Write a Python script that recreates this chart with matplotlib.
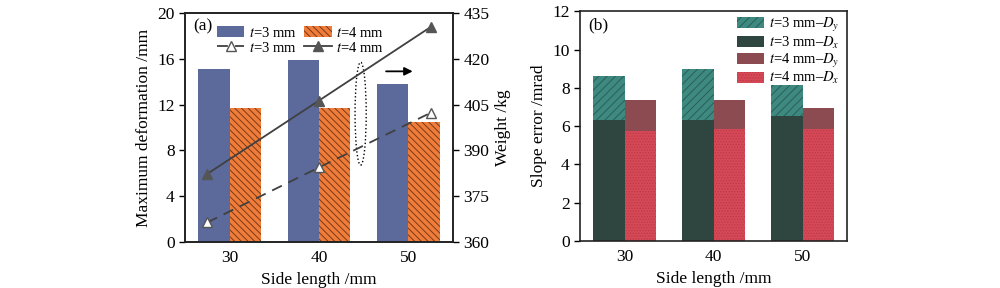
import numpy as np
import matplotlib
matplotlib.use('Agg')
import matplotlib.pyplot as plt
from matplotlib.patches import Ellipse

plt.rcParams['font.family'] = 'Liberation Serif'
plt.rcParams['mathtext.fontset'] = 'stix'
plt.rcParams['hatch.linewidth'] = 0.7

# data
side_labels = ['30', '40', '50']
deform_t3 = [15.08, 15.9, 13.82]
deform_t4 = [11.74, 11.74, 10.48]
weight_x = [27.5, 40, 52.5]  # side length positions of weight points
weight_t3 = [366.4, 384.4, 402.3]
weight_t4 = [382.3, 406.3, 430.4]

dx_t3 = [6.3, 6.3, 6.52]
dy_t3 = [8.63, 8.96, 8.17]
dx_t4 = [5.74, 5.83, 5.83]
dy_t4 = [7.34, 7.39, 6.94]

x = np.arange(len(side_labels))
w = 0.35
fs = 12.5

fig = plt.figure(figsize=(10, 2.88), dpi=100)
ax1 = fig.add_axes([0.185, 0.16, 0.268, 0.795])
ax2 = fig.add_axes([0.58, 0.163, 0.267, 0.798])

# ---- panel (a)
b1 = ax1.bar(x - w / 2, deform_t3, w, color='#5b6a9b')
b2 = ax1.bar(x + w / 2, deform_t4, w, color='#ef7d39', hatch='\\\\\\\\\\',
             edgecolor='#7a3a1a', linewidth=0)
ax1.set_xlim(-0.5, 2.5)
ax1.set_ylim(0, 20)
ax1.set_yticks(range(0, 21, 4))
ax1.set_xticks(x)
ax1.set_xticklabels(side_labels)
ax1.set_xlabel('Side length /mm', fontsize=fs)
ax1.set_ylabel('Maximum deformation /mm', fontsize=fs)

ax1r = ax1.twinx()
lx = (np.array(weight_x) - 30) / 10
l1, = ax1r.plot(lx, weight_t3, '--', color='#404040', lw=1.3, marker='^',
                ms=7, mfc='white', mec='#555555', dashes=(6, 4))
l2, = ax1r.plot(lx, weight_t4, '-', color='#404040', lw=1.3, marker='^',
                ms=7, mfc='#555555', mec='#555555')
ax1r.set_ylim(360, 435)
ax1r.set_yticks(range(360, 436, 15))
ax1r.set_ylabel('Weight /kg', fontsize=fs)

ax1.add_patch(Ellipse((1.466, 11.2), 0.125, 9.0, fill=False, ls=':',
                      lw=1.0, ec='black', zorder=5))
ax1.annotate('', xy=(2.08, 14.9), xytext=(1.72, 14.9),
             arrowprops=dict(arrowstyle='-|>', color='black', lw=1.3,
                             mutation_scale=12))
ax1.text(0.03, 0.975, '(a)', transform=ax1.transAxes, fontsize=fs,
         va='top', ha='left')
ax1r.legend([b1, l1, b2, l2], ['$t$=3 mm', '$t$=3 mm', '$t$=4 mm', '$t$=4 mm'],
            ncol=2, loc='upper left', bbox_to_anchor=(0.075, 0.995),
            frameon=False, fontsize=10.5, handlelength=1.9, handleheight=0.8,
            columnspacing=0.5, handletextpad=0.3, labelspacing=0.05,
            borderpad=0.3)

# ---- panel (b)
h1 = ax2.bar(x - w / 2, dy_t3, w, color='#3e8a80', hatch='////',
             edgecolor='#2a5e57', linewidth=0)
h2 = ax2.bar(x - w / 2, dx_t3, w, color='#2f4540')
h3 = ax2.bar(x + w / 2, dy_t4, w, color='#8c4b50')
h4 = ax2.bar(x + w / 2, dx_t4, w, color='#d64a58', hatch='......',
             edgecolor='#c03848', linewidth=0)
ax2.set_xlim(-0.5, 2.5)
ax2.set_ylim(0, 12)
ax2.set_yticks(range(0, 13, 2))
ax2.set_xticks(x)
ax2.set_xticklabels(side_labels)
ax2.set_xlabel('Side length /mm', fontsize=fs)
ax2.set_ylabel('Slope error /mrad', fontsize=fs)
ax2.text(0.03, 0.975, '(b)', transform=ax2.transAxes, fontsize=fs,
         va='top', ha='left')
ax2.legend([h1, h2, h3, h4],
           ['$t$=3 mm–$D_y$', '$t$=3 mm–$D_x$', '$t$=4 mm–$D_y$', '$t$=4 mm–$D_x$'],
           loc='upper right', bbox_to_anchor=(1.015, 1.03), frameon=False,
           fontsize=10.5, handlelength=1.9, handleheight=0.8, handletextpad=0.3,
           labelspacing=0.05, borderpad=0.3)

for a in (ax1, ax1r, ax2):
    for s in a.spines.values():
        s.set_linewidth(1.2)
        s.set_color('#222222')
    a.tick_params(labelsize=fs, direction='out', length=4, width=1.0)
ax1.tick_params(axis='x', length=0, pad=6)
ax2.tick_params(axis='x', length=0, pad=6)

fig.savefig('out.png', dpi=100)
